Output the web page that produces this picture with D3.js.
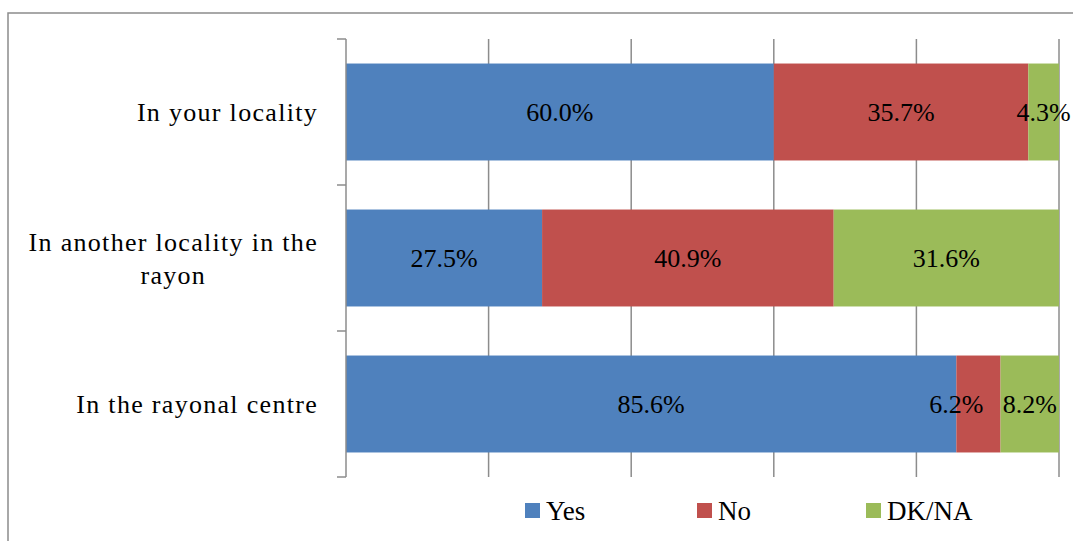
<!DOCTYPE html>
<html><head><meta charset="utf-8">
<script src="https://cdn.jsdelivr.net/npm/d3@7"></script>
<style>body{margin:0;background:#fff;}svg{display:block;}</style>
</head><body>
<svg id="chart" width="1073" height="541"></svg>
<script>
const categories = ["In your locality", "In another locality in the rayon", "In the rayonal centre"];
const categoryLines = [["In your locality"], ["In another locality in the", "rayon"], ["In the rayonal centre"]];
const seriesNames = ["Yes", "No", "DK/NA"];
const yesValues = [60.0, 27.5, 85.6];
const noValues = [35.7, 40.9, 6.2];
const dkValues = [4.3, 31.6, 8.2];
const xTicks = [0, 20, 40, 60, 80, 100];
const colors = ["#4F81BD", "#C0504D", "#9BBB59"];

const svg = d3.select("#chart");
const W = 1073, H = 541;
const FONT = "'Liberation Serif', 'Times New Roman', serif";

// frame
svg.append("rect").attr("x", 8).attr("y", 13).attr("width", W + 20).attr("height", H + 20)
  .attr("fill", "none").attr("stroke", "#8c8c8c").attr("stroke-width", 1.5);

const x = d3.scaleLinear().domain([0, 100]).range([346, 1059]);
const y = d3.scaleBand().domain(categories).range([39, 477]).paddingInner(0.336).paddingOuter(0.168);

// gridlines
svg.append("g").selectAll("line").data(xTicks.slice(1)).join("line")
  .attr("x1", d => x(d)).attr("x2", d => x(d)).attr("y1", 39).attr("y2", 477)
  .attr("stroke", "#8c8c8c").attr("stroke-width", 1.5);

const rows = categories.map((c, i) => ({cat: c, vals: [yesValues[i], noValues[i], dkValues[i]]}));
const stacked = [];
rows.forEach((r, ri) => {
  let acc = 0;
  r.vals.forEach((v, si) => {
    stacked.push({cat: r.cat, ri, si, x0: acc, x1: acc + v, v});
    acc += v;
  });
});

svg.append("g").selectAll("rect").data(stacked).join("rect")
  .attr("x", d => x(d.x0)).attr("width", d => x(d.x1) - x(d.x0))
  .attr("y", d => y(d.cat)).attr("height", y.bandwidth())
  .attr("fill", d => colors[d.si]);

// value labels
svg.append("g").selectAll("text").data(stacked).join("text")
  .attr("x", d => (x(d.x0) + x(d.x1)) / 2 + ((d.ri === 2 && d.si === 1) ? -22 : 0))
  .attr("y", d => y(d.cat) + y.bandwidth() / 2)
  .attr("dy", "0.35em")
  .attr("text-anchor", "middle")
  .attr("font-family", FONT).attr("font-size", 26).attr("fill", "#000")
  .text(d => d.v.toFixed(1) + "%");

// y axis
const axisG = svg.append("g");
axisG.append("line").attr("x1", x(0)).attr("x2", x(0)).attr("y1", 39).attr("y2", 477)
  .attr("stroke", "#8c8c8c").attr("stroke-width", 1.5);
axisG.selectAll("line.tick").data([0, 1, 2, 3]).join("line").attr("class", "tick")
  .attr("x1", x(0) - 9).attr("x2", x(0))
  .attr("y1", i => 39 + i * y.step()).attr("y2", i => 39 + i * y.step())
  .attr("stroke", "#8c8c8c").attr("stroke-width", 1.5);

// category labels
const labelRight = 318;
const lineH = 33;
categories.forEach((c, i) => {
  const lines = categoryLines[i];
  const g = svg.append("g");
  const texts = lines.map((ln, li) => g.append("text")
    .attr("font-family", FONT).attr("font-size", 26).attr("letter-spacing", 1.3)
    .attr("fill", "#000").attr("text-anchor", "middle").text(ln));
  const widths = texts.map(t => t.node().getComputedTextLength());
  const bw = d3.max(widths);
  const cy = y(c) + y.bandwidth() / 2;
  const n = lines.length;
  texts.forEach((t, li) => {
    t.attr("x", labelRight - bw / 2)
     .attr("y", cy + (li - (n - 1) / 2) * lineH)
     .attr("dy", "0.35em");
  });
});

// legend
const legendX = [525, 697, 866];
const lg = svg.append("g");
seriesNames.forEach((s, i) => {
  lg.append("rect").attr("x", legendX[i]).attr("y", 503).attr("width", 15).attr("height", 15).attr("fill", colors[i]);
  lg.append("text").attr("x", legendX[i] + 21).attr("y", 511).attr("dy", "0.35em")
    .attr("font-family", FONT).attr("font-size", 27).attr("fill", "#000").text(s);
});
</script>
</body></html>
